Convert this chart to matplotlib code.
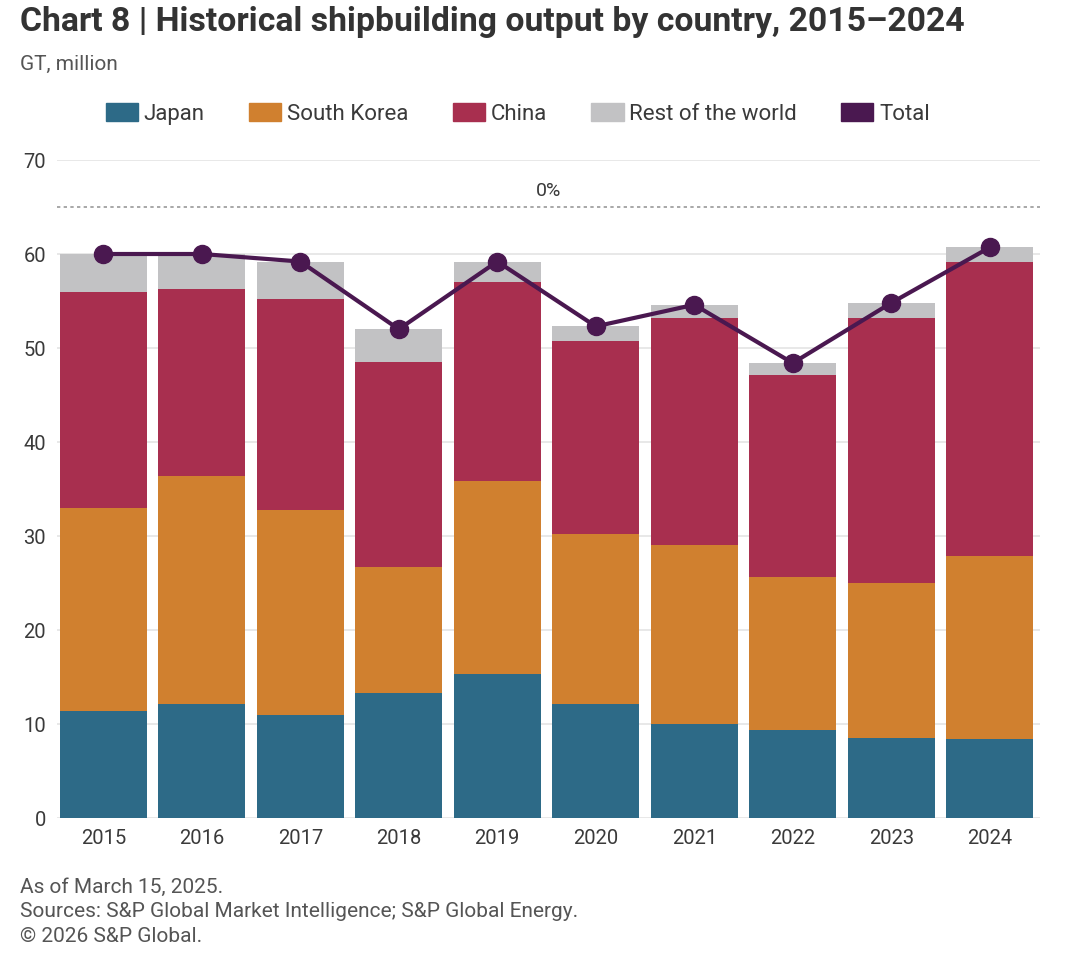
import matplotlib
matplotlib.use('Agg')
import matplotlib.pyplot as plt
import matplotlib.patches as mpatches
import numpy as np

# Data (GT, million)
years = ['2015', '2016', '2017', '2018', '2019', '2020', '2021', '2022', '2023', '2024']
japan = [11.4, 12.1, 11.0, 13.3, 15.3, 12.1, 10.0, 9.4, 8.5, 8.4]
south_korea = [21.6, 24.3, 21.8, 13.4, 20.6, 18.1, 19.0, 16.2, 16.5, 19.5]
china = [23.0, 19.9, 22.4, 21.8, 21.1, 20.5, 24.2, 21.5, 28.2, 31.2]
rest_of_world = [4.0, 3.7, 4.0, 3.5, 2.2, 1.6, 1.4, 1.3, 1.6, 1.6]
total = [60.0, 60.0, 59.2, 52.0, 59.2, 52.3, 54.6, 48.4, 54.8, 60.7]
ref_level = 65
ref_label = '0%'

c_japan = '#2d6a87'
c_korea = '#d0802f'
c_china = '#a82f4f'
c_rest = '#c2c2c4'
c_total = '#4a1850'
txt = '#3a3a3a'

plt.rcParams['font.family'] = ['Roboto', 'DejaVu Sans']

fig = plt.figure(figsize=(10.8, 9.64), dpi=100)
ax = fig.add_axes([57/1080, 1-818/964, (1040-57)/1080, (818-160)/964])

x = np.arange(len(years))
w = 0.88
b1 = np.array(japan)
b2 = b1 + np.array(south_korea)
b3 = b2 + np.array(china)
ax.bar(x, japan, w, color=c_japan, zorder=2)
ax.bar(x, south_korea, w, bottom=b1, color=c_korea, zorder=2)
ax.bar(x, china, w, bottom=b2, color=c_china, zorder=2)
ax.bar(x, rest_of_world, w, bottom=b3, color=c_rest, zorder=2)
ax.plot(x, total, color=c_total, lw=3, marker='o', ms=13, zorder=4)

# reference line
ax.axhline(ref_level, color='#9a9a9a', lw=1.2, ls=(0, (2, 2)), zorder=1)
ax.text((x[0] + x[-1]) / 2 + 0.02, ref_level + 0.7, ref_label, ha='center', va='bottom',
        fontsize=14, color=txt)

ax.set_xlim(-0.47, 9.51)
ax.set_ylim(0, 70)
ax.set_yticks(np.arange(0, 71, 10))
ax.yaxis.grid(True, color='#e6e6e6', lw=1.3, zorder=0)
ax.set_axisbelow(True)
for s in ax.spines.values():
    s.set_visible(False)
ax.set_xticks(x)
ax.set_xticklabels(years)
ax.tick_params(axis='both', length=0, labelsize=14.5, colors=txt)
ax.tick_params(axis='x', pad=8)
ax.tick_params(axis='y', pad=8)

# title, fitted to the reference width
title = fig.text(20/1080, 1-22/964, 'Chart 8 | Historical shipbuilding output by country, 2015\u20132024',
                 fontsize=24, fontweight='bold', color='#333333', va='center')
fig.canvas.draw()
tw = title.get_window_extent().width
title.set_fontsize(24 * 947 / tw)

fig.text(20/1080, 1-64/964, 'GT, million', fontsize=15, color='#555555', va='center')

handles = [mpatches.Patch(color=c) for c in [c_japan, c_korea, c_china, c_rest, c_total]]
labels = ['Japan', 'South Korea', 'China', 'Rest of the world', 'Total']
fig.legend(handles, labels, loc='center left', bbox_to_anchor=(106/1080, 1-114/964),
           ncol=5, frameon=False, fontsize=16, handlelength=1.45, handleheight=0.86,
           handletextpad=0.25, columnspacing=2.0, borderpad=0, borderaxespad=0, labelcolor=txt)

footer = 'As of March 15, 2025.\nSources: S&P Global Market Intelligence; S&P Global Energy.\n\u00a9 2026 S&P Global.'
fig.text(20/1080, 1-878/964, footer, fontsize=15, color='#555555', va='top', linespacing=1.36)

fig.savefig('out.png', dpi=100, facecolor='white')
